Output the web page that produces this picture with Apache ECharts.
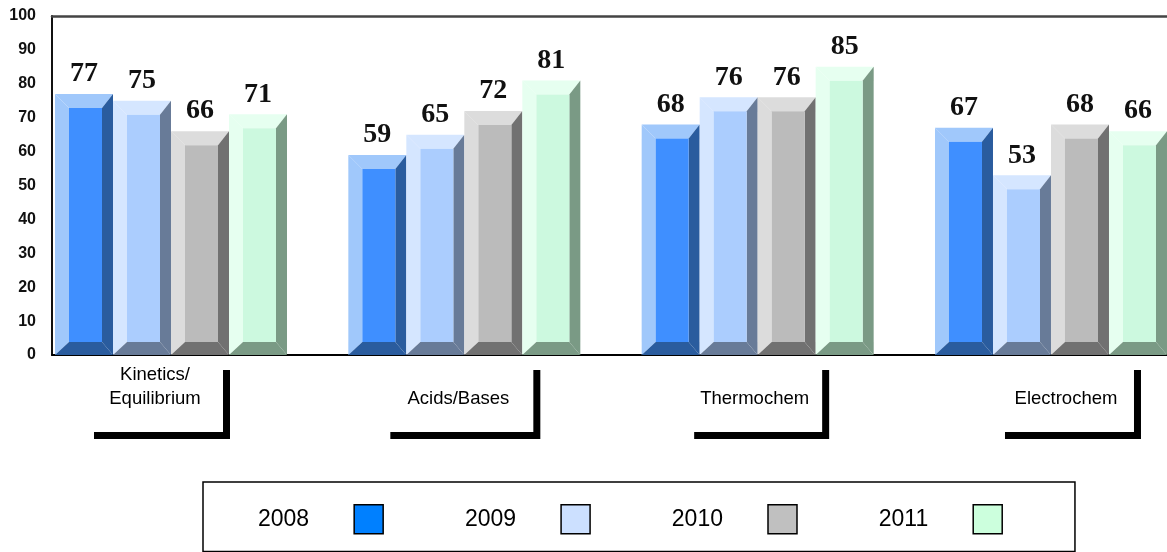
<!DOCTYPE html>
<html><head><meta charset="utf-8">
<script src="https://cdn.jsdelivr.net/npm/echarts@6/dist/echarts.min.js"></script>
<style>html,body{margin:0;padding:0;background:#fff}#c{width:1167px;height:552px}</style>
</head><body><div id="c"></div>
<script>
// ---- data ----
const categories = ['Kinetics/\nEquilibrium', '\nAcids/Bases', '\nThermochem', '\nElectrochem'];
const years = ['2008', '2009', '2010', '2011'];
const v2008 = [77, 59, 68, 67];
const v2009 = [75, 65, 76, 53];
const v2010 = [66, 72, 76, 68];
const v2011 = [71, 81, 85, 66];
const yMin = 0, yMax = 100, yStep = 10;

// ---- layout / style ----
const GRID_LEFT = 52, GRID_TOP = 16, GRID_BOTTOM = 197, CHART_W = 1167;
const CAT_PX = 293.33;           // px per category
const GROUP_CENTER0 = 171;       // px of first group centre
const BAR_W = 58, GROUP_OFFSET = -116;
const BEV_L = 14, BEV_R = 11, BEV_T = 14, BEV_B = 13;
const labelNudgePx = [-16, -6, -3, 15];
const labelBoxW = [124, 138, 123, 124];
const palettes = [
  {legend: '#0080ff', light: '#a0c8fb', face: '#3f8fff', dark: '#2a5c9e'},
  {legend: '#cce0ff', light: '#d5e6ff', face: '#abcdfe', dark: '#687b98'},
  {legend: '#c0c0c0', light: '#dcdcdc', face: '#bbbbbb', dark: '#717171'},
  {legend: '#ccffdd', light: '#e6fff0', face: '#ccf9df', dark: '#7a9a85'}
];
const seriesValues = [v2008, v2009, v2010, v2011];

const gridWidth = CHART_W - GRID_LEFT;
const xMin = -(GROUP_CENTER0 - GRID_LEFT) / CAT_PX;
const xMax = xMin + gridWidth / CAT_PX;

const labelRich = {};
labelBoxW.forEach((w, i) => {
  labelRich['w' + i] = {width: w, align: 'center', lineHeight: 24, fontSize: 18.5,
    fontFamily: 'Liberation Sans', color: '#000'};
});

function makeRender(k) {
  return function (params, api) {
    const i = api.value(0), v = api.value(1);
    const top = api.coord([i, v]);
    const base = api.coord([i, 0]);
    const s = api.size([1, 0])[0] / CAT_PX;
    const L = top[0] + (GROUP_OFFSET + k * BAR_W) * s;
    const R = L + BAR_W * s;
    const T = top[1], B = base[1];
    const iL = L + BEV_L * s, iR = R - BEV_R * s, iT = T + BEV_T, iB = B - BEV_B;
    const p = palettes[k];
    return {
      type: 'group',
      children: [
        {type: 'polygon', shape: {points: [[L, T], [R, T], [iR, iT], [iL, iT]]}, style: {fill: p.light}},
        {type: 'polygon', shape: {points: [[L, T], [iL, iT], [iL, iB], [L, B]]}, style: {fill: p.light}},
        {type: 'polygon', shape: {points: [[R, T], [R, B], [iR, iB], [iR, iT]]}, style: {fill: p.dark}},
        {type: 'polygon', shape: {points: [[L, B], [iL, iB], [iR, iB], [R, B]]}, style: {fill: p.dark}},
        {type: 'rect', shape: {x: iL, y: iT, width: iR - iL, height: iB - iT}, style: {fill: p.face}},
        {type: 'text', style: {text: String(v), x: (L + R) / 2, y: T - 20, align: 'center', verticalAlign: 'middle',
          fontFamily: 'Liberation Serif', fontWeight: 'bold', fontSize: 28, fill: '#111'}}
      ]
    };
  };
}

const chart = echarts.init(document.getElementById('c'));
chart.setOption({
  animation: false,
  backgroundColor: '#fff',
  grid: {left: GRID_LEFT, right: 0, top: GRID_TOP, bottom: GRID_BOTTOM},
  xAxis: [
    {
      type: 'value', min: xMin, max: xMax, position: 'bottom',
      axisLine: {show: true, onZero: false, lineStyle: {color: '#000', width: 2}},
      axisTick: {show: false},
      splitLine: {show: false},
      axisLabel: {
        customValues: categories.map((c, i) => i + labelNudgePx[i] / CAT_PX),
        formatter: function (v) {
          const i = Math.round(v);
          return categories[i].split('\n').map(line => '{w' + i + '|' + (line || ' ') + '}').join('\n');
        },
        rich: labelRich,
        margin: 8,
        fontFamily: 'Liberation Sans', fontSize: 18.5, color: '#000',
        lineHeight: 24, align: 'center',
        backgroundColor: '#fff', padding: [0, 6, 21, 6],
        shadowColor: '#000', shadowBlur: 0, shadowOffsetX: 7, shadowOffsetY: 7
      }
    },
    {
      type: 'value', min: xMin, max: xMax, position: 'top',
      axisLine: {show: true, onZero: false, lineStyle: {color: '#444', width: 2.5}},
      axisTick: {show: false}, axisLabel: {show: false}, splitLine: {show: false}
    }
  ],
  yAxis: {
    type: 'value', min: yMin, max: yMax, interval: yStep,
    axisLine: {show: true, onZero: false, lineStyle: {color: '#111', width: 2}},
    axisTick: {show: false},
    splitLine: {show: false},
    axisLabel: {color: '#111', fontWeight: 'bold', fontSize: 16, fontFamily: 'Liberation Sans', margin: 16}
  },
  legend: {
    left: 203, top: 482, orient: 'horizontal', align: 'right',
    itemWidth: 29, itemHeight: 29, itemGap: 81,
    padding: [22, 72, 17, 55],
    borderColor: '#000', borderWidth: 1.5,
    icon: 'rect', selectedMode: false,
    itemStyle: {borderColor: '#000', borderWidth: 1.5},
    textStyle: {fontSize: 23, fontFamily: 'Liberation Sans', color: '#000', padding: [4, 40, 0, 0]},
    data: years
  },
  series: seriesValues.map((vals, k) => ({
    type: 'custom',
    name: years[k],
    renderItem: makeRender(k),
    itemStyle: {color: palettes[k].legend},
    encode: {x: 0, y: 1},
    data: vals.map((v, i) => [i, v])
  }))
});
</script>
</body></html>
